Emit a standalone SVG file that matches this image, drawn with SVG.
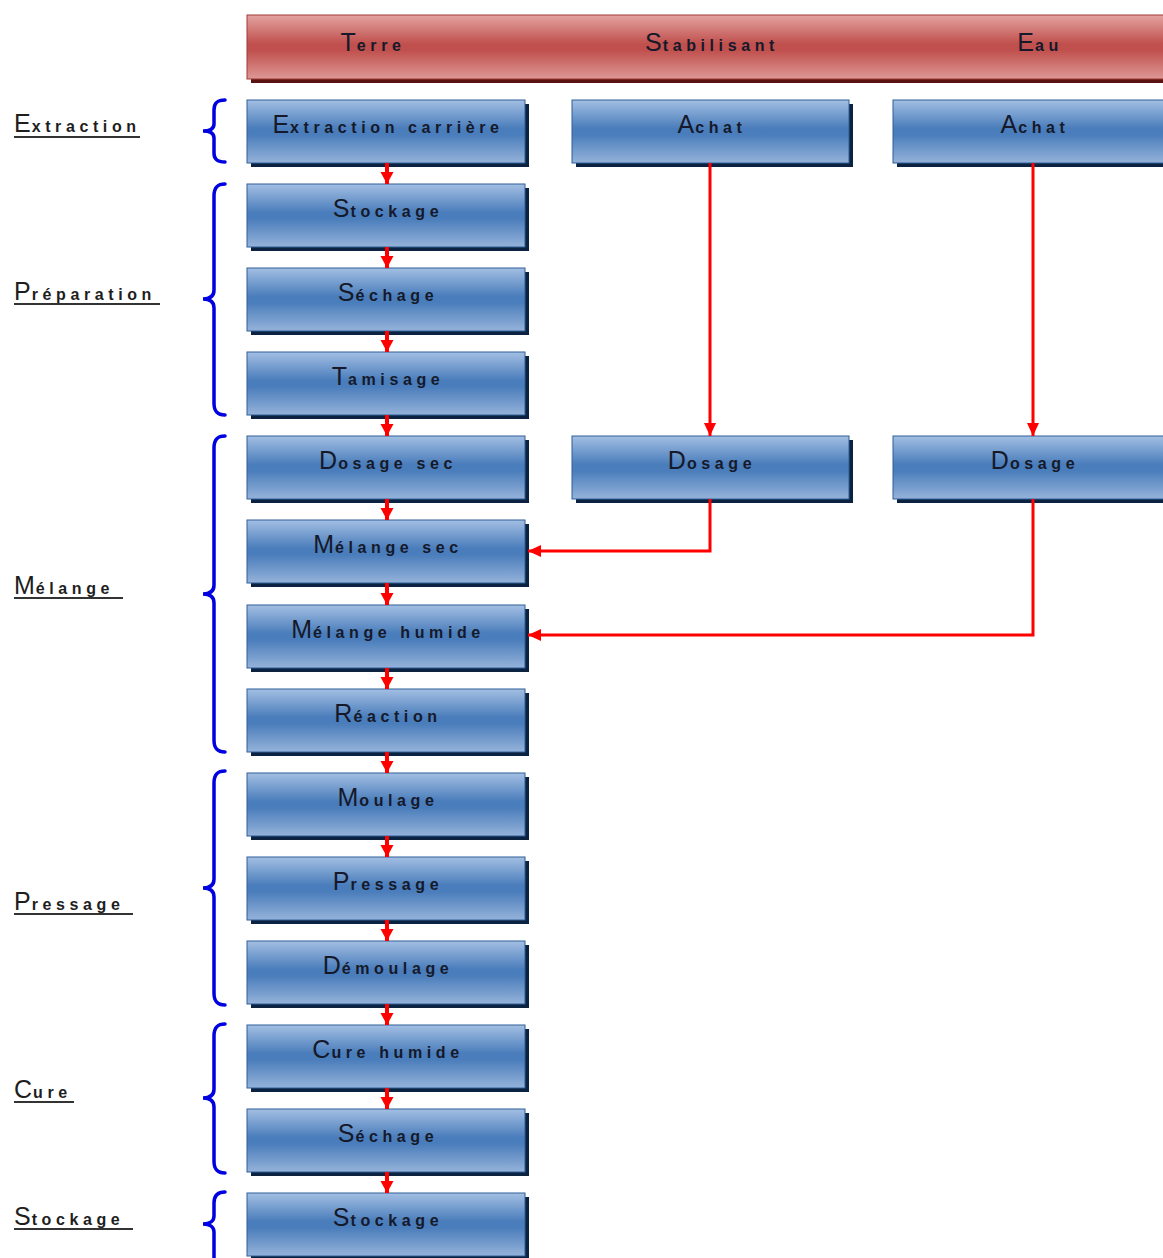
<svg xmlns="http://www.w3.org/2000/svg" width="1163" height="1258" viewBox="0 0 1163 1258">
<defs>
<linearGradient id="gBlue" x1="0" y1="0" x2="0" y2="1">
<stop offset="0" stop-color="#a3bfe3"/>
<stop offset="0.45" stop-color="#4a7dbb"/>
<stop offset="0.55" stop-color="#4a7dbb"/>
<stop offset="1" stop-color="#95b3da"/>
</linearGradient>
<linearGradient id="gRed" x1="0" y1="0" x2="0" y2="1">
<stop offset="0" stop-color="#e3a3a1"/>
<stop offset="0.45" stop-color="#c0504d"/>
<stop offset="0.55" stop-color="#c0504d"/>
<stop offset="1" stop-color="#dd9896"/>
</linearGradient>
<marker id="ahS" markerUnits="userSpaceOnUse" markerWidth="14" markerHeight="14" refX="12" refY="6.5" orient="auto">
<path d="M0,0 L12,6.5 L0,13 Z" fill="#ff0000"/>
</marker>
<marker id="ahL" markerUnits="userSpaceOnUse" markerWidth="14" markerHeight="14" refX="13" refY="6" orient="auto">
<path d="M0,0 L13,6 L0,12 Z" fill="#ff0000"/>
</marker>
</defs>
<style>
.box{fill:url(#gBlue);stroke:#2f5f98;stroke-width:1}
.sh{fill:#0b2240}
.hbox{fill:url(#gRed);stroke:#a03a37;stroke-width:1}
.hsh{fill:#5a1212}
.t{font-family:"Liberation Sans",Arial,sans-serif;font-size:16px;font-weight:bold;letter-spacing:4.6px;fill:#15192a}
.c{font-size:25px;font-weight:normal;letter-spacing:1px}
.lbl{font-family:"Liberation Sans",Arial,sans-serif;font-size:16px;font-weight:bold;letter-spacing:4.6px;fill:#1e1e1e}
.ul{stroke:#333;stroke-width:2}
.brace{fill:none;stroke:#0000e0;stroke-width:3.5;stroke-linecap:round}
.sa{stroke:#ff0000;stroke-width:4;fill:none;marker-end:url(#ahS)}
.la{stroke:#ff0000;stroke-width:3;fill:none;marker-end:url(#ahL)}
</style>

<g id="header">
<rect class="hsh" x="251" y="19" width="930" height="64"/>
<rect class="hbox" x="247" y="15" width="930" height="64"/>
<text class="t" x="373" y="51" text-anchor="middle"><tspan class="c">T</tspan>erre</text>
<text class="t" x="712" y="51" text-anchor="middle"><tspan class="c">S</tspan>tabilisant</text>
<text class="t" x="1040" y="51" text-anchor="middle"><tspan class="c">E</tspan>au</text>
</g>

<g id="labels">
<g id="lbl-extraction"><text class="lbl" x="14" y="132"><tspan class="c">E</tspan>xtraction</text><line class="ul" x1="14" y1="137" x2="140" y2="137"/></g>
<g id="lbl-preparation"><text class="lbl" x="14" y="300"><tspan class="c">P</tspan>réparation</text><line class="ul" x1="14" y1="304" x2="160" y2="304"/></g>
<g id="lbl-melange"><text class="lbl" x="14" y="594"><tspan class="c">M</tspan>élange</text><line class="ul" x1="14" y1="598" x2="123" y2="598"/></g>
<g id="lbl-pressage"><text class="lbl" x="14" y="910"><tspan class="c">P</tspan>ressage</text><line class="ul" x1="14" y1="914" x2="133" y2="914"/></g>
<g id="lbl-cure"><text class="lbl" x="14" y="1098"><tspan class="c">C</tspan>ure</text><line class="ul" x1="14" y1="1102" x2="74" y2="1102"/></g>
<g id="lbl-stockage"><text class="lbl" x="14" y="1225"><tspan class="c">S</tspan>tockage</text><line class="ul" x1="14" y1="1229" x2="133" y2="1229"/></g>
</g>

<g id="braces">
<path class="brace" d="M225 100 C217 100 214 103 214 110 V124 C214 129 210 131 203 131 C210 131 214 133 214 138 V153 C214 159 217 162 225 162"/>
<path class="brace" d="M225 184 C217 184 214 188 214 196 V290 C214 296 210 299 203 299 C210 299 214 302 214 308 V403 C214 411 217 415 225 415"/>
<path class="brace" d="M225 436 C217 436 214 440 214 448 V585 C214 591 210 594 203 594 C210 594 214 597 214 603 V740 C214 748 217 752 225 752"/>
<path class="brace" d="M225 771 C217 771 214 775 214 783 V879 C214 885 210 888 203 888 C210 888 214 891 214 897 V993 C214 1001 217 1005 225 1005"/>
<path class="brace" d="M225 1024 C217 1024 214 1028 214 1036 V1089 C214 1095 210 1098 203 1098 C210 1098 214 1101 214 1107 V1161 C214 1169 217 1173 225 1173"/>
<path class="brace" d="M225 1192 C217 1192 214 1196 214 1203 V1216 C214 1221 210 1224 203 1224 C210 1224 214 1227 214 1232 V1262"/>
</g>

<g id="n-extraction"><rect class="sh" x="251" y="104" width="278" height="63"/><rect class="box" x="247" y="100" width="278" height="63"/><text class="t" x="388" y="133" text-anchor="middle"><tspan class="c">E</tspan>xtraction carrière</text></g>
<g id="n-stockage1"><rect class="sh" x="251" y="188" width="278" height="63"/><rect class="box" x="247" y="184" width="278" height="63"/><text class="t" x="388" y="217" text-anchor="middle"><tspan class="c">S</tspan>tockage</text></g>
<g id="n-sechage1"><rect class="sh" x="251" y="272" width="278" height="63"/><rect class="box" x="247" y="268" width="278" height="63"/><text class="t" x="388" y="301" text-anchor="middle"><tspan class="c">S</tspan>échage</text></g>
<g id="n-tamisage"><rect class="sh" x="251" y="356" width="278" height="63"/><rect class="box" x="247" y="352" width="278" height="63"/><text class="t" x="388" y="385" text-anchor="middle"><tspan class="c">T</tspan>amisage</text></g>
<g id="n-dosagesec"><rect class="sh" x="251" y="440" width="278" height="63"/><rect class="box" x="247" y="436" width="278" height="63"/><text class="t" x="388" y="469" text-anchor="middle"><tspan class="c">D</tspan>osage sec</text></g>
<g id="n-melangesec"><rect class="sh" x="251" y="524" width="278" height="63"/><rect class="box" x="247" y="520" width="278" height="63"/><text class="t" x="388" y="553" text-anchor="middle"><tspan class="c">M</tspan>élange sec</text></g>
<g id="n-melangehumide"><rect class="sh" x="251" y="609" width="278" height="63"/><rect class="box" x="247" y="605" width="278" height="63"/><text class="t" x="388" y="638" text-anchor="middle"><tspan class="c">M</tspan>élange humide</text></g>
<g id="n-reaction"><rect class="sh" x="251" y="693" width="278" height="63"/><rect class="box" x="247" y="689" width="278" height="63"/><text class="t" x="388" y="722" text-anchor="middle"><tspan class="c">R</tspan>éaction</text></g>
<g id="n-moulage"><rect class="sh" x="251" y="777" width="278" height="63"/><rect class="box" x="247" y="773" width="278" height="63"/><text class="t" x="388" y="806" text-anchor="middle"><tspan class="c">M</tspan>oulage</text></g>
<g id="n-pressage"><rect class="sh" x="251" y="861" width="278" height="63"/><rect class="box" x="247" y="857" width="278" height="63"/><text class="t" x="388" y="890" text-anchor="middle"><tspan class="c">P</tspan>ressage</text></g>
<g id="n-demoulage"><rect class="sh" x="251" y="945" width="278" height="63"/><rect class="box" x="247" y="941" width="278" height="63"/><text class="t" x="388" y="974" text-anchor="middle"><tspan class="c">D</tspan>émoulage</text></g>
<g id="n-curehumide"><rect class="sh" x="251" y="1029" width="278" height="63"/><rect class="box" x="247" y="1025" width="278" height="63"/><text class="t" x="388" y="1058" text-anchor="middle"><tspan class="c">C</tspan>ure humide</text></g>
<g id="n-sechage2"><rect class="sh" x="251" y="1113" width="278" height="63"/><rect class="box" x="247" y="1109" width="278" height="63"/><text class="t" x="388" y="1142" text-anchor="middle"><tspan class="c">S</tspan>échage</text></g>
<g id="n-stockage2"><rect class="sh" x="251" y="1197" width="278" height="63"/><rect class="box" x="247" y="1193" width="278" height="63"/><text class="t" x="388" y="1226" text-anchor="middle"><tspan class="c">S</tspan>tockage</text></g>

<g id="n-achat-stab"><rect class="sh" x="576" y="104" width="277" height="63"/><rect class="box" x="572" y="100" width="277" height="63"/><text class="t" x="712" y="133" text-anchor="middle"><tspan class="c">A</tspan>chat</text></g>
<g id="n-achat-eau"><rect class="sh" x="897" y="104" width="277" height="63"/><rect class="box" x="893" y="100" width="277" height="63"/><text class="t" x="1035" y="133" text-anchor="middle"><tspan class="c">A</tspan>chat</text></g>
<g id="n-dosage-stab"><rect class="sh" x="576" y="440" width="277" height="63"/><rect class="box" x="572" y="436" width="277" height="63"/><text class="t" x="712" y="469" text-anchor="middle"><tspan class="c">D</tspan>osage</text></g>
<g id="n-dosage-eau"><rect class="sh" x="897" y="440" width="277" height="63"/><rect class="box" x="893" y="436" width="277" height="63"/><text class="t" x="1035" y="469" text-anchor="middle"><tspan class="c">D</tspan>osage</text></g>

<g id="connectors">
<path class="sa" d="M387 163 V184"/>
<path class="sa" d="M387 247 V268"/>
<path class="sa" d="M387 331 V352"/>
<path class="sa" d="M387 415 V436"/>
<path class="sa" d="M387 499 V520"/>
<path class="sa" d="M387 583 V605"/>
<path class="sa" d="M387 668 V689"/>
<path class="sa" d="M387 752 V773"/>
<path class="sa" d="M387 836 V857"/>
<path class="sa" d="M387 920 V941"/>
<path class="sa" d="M387 1004 V1025"/>
<path class="sa" d="M387 1088 V1109"/>
<path class="sa" d="M387 1172 V1193"/>
<path class="la" d="M710 163 V436"/>
<path class="la" d="M1033 163 V436"/>
<path class="la" d="M710 499 V551 H528"/>
<path class="la" d="M1033 499 V635 H528"/>
</g>
</svg>
